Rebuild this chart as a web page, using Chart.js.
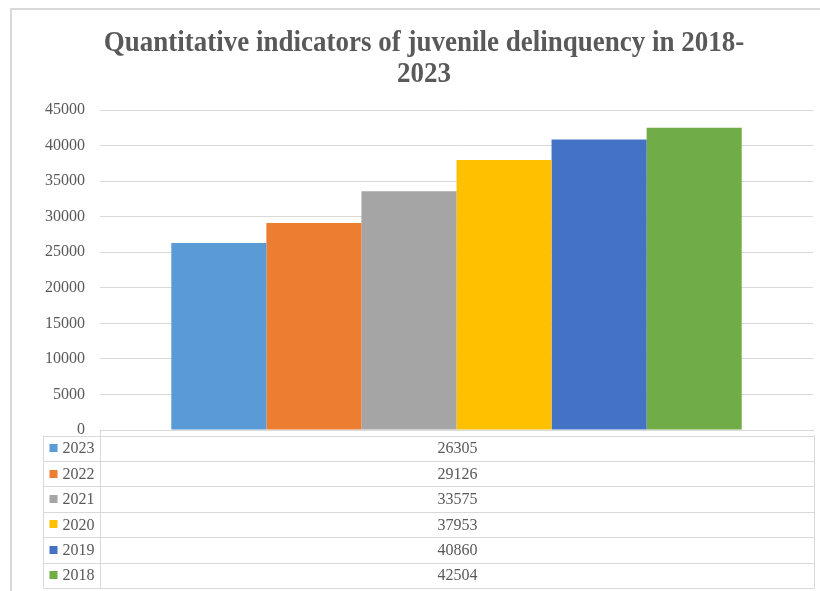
<!DOCTYPE html>
<html>
<head>
<meta charset="utf-8">
<script src="https://cdn.jsdelivr.net/npm/chart.js@4.4.1/dist/chart.umd.min.js"></script>
<style>
  html, body { margin: 0; padding: 0; background: #fff; }
  #wrap { position: relative; width: 820px; height: 591px; overflow: hidden; }
  #frame { position: absolute; left: 10px; top: 8px; width: 900px; height: 700px; border: 2px solid #d9d9d9; }
  canvas { position: absolute; left: 0; top: 0; }
</style>
</head>
<body>
<div id="wrap">
  <div id="frame"></div>
  <canvas id="myChart" width="820" height="591"></canvas>
</div>
<script>
const categories = [""];
const years = ["2023", "2022", "2021", "2020", "2019", "2018"];
const counts = [26305, 29126, 33575, 37953, 40860, 42504];
const colors = ["#5B9BD5", "#ED7D31", "#A5A5A5", "#FFC000", "#4472C4", "#70AD47"];
const yTicks = [0, 5000, 10000, 15000, 20000, 25000, 30000, 35000, 40000, 45000];
const titleLines = ["Quantitative indicators of juvenile delinquency in 2018-", "2023"];

const textColor = "#595959";
const lineColor = "#d9d9d9";
const serif = "'Liberation Serif', 'Times New Roman', serif";

// title in a slightly tall, condensed look like the original
const tallTitle = {
  id: "tallTitle",
  afterDraw(chart) {
    const { ctx } = chart;
    ctx.save();
    ctx.font = "bold 27px " + serif;
    ctx.fillStyle = textColor;
    ctx.textAlign = "center";
    ctx.textBaseline = "alphabetic";
    titleLines.forEach((line, i) => {
      const base = 51 + i * 31;
      ctx.save();
      ctx.translate(424, base);
      ctx.scale(1, 1.12);
      ctx.fillText(line, 0, 0);
      ctx.restore();
    });
    ctx.restore();
  }
};

// Excel-style data table under the plot
const dataTable = {
  id: "dataTable",
  afterDraw(chart) {
    const { ctx, chartArea } = chart;
    const px = (v) => Math.round(v) + 0.5;
    const left = px(chartArea.left - 57);
    const mid = px(chartArea.left);
    const right = px(chartArea.right + 1);
    const axisY = px(chartArea.bottom);
    const top = px(chartArea.bottom + 5);
    const rowH = (chart.height - 3 - top) / years.length;
    const bottom = px(top + rowH * years.length);

    ctx.save();
    ctx.strokeStyle = lineColor;
    ctx.lineWidth = 1;
    ctx.beginPath();
    ctx.moveTo(mid, axisY); ctx.lineTo(right, axisY);
    ctx.moveTo(mid, axisY); ctx.lineTo(mid, bottom);
    ctx.moveTo(left, top); ctx.lineTo(left, bottom);
    ctx.moveTo(right, top); ctx.lineTo(right, bottom);
    for (let i = 0; i <= years.length; i++) {
      const y = px(top + rowH * i);
      ctx.moveTo(left, y); ctx.lineTo(right, y);
    }
    ctx.stroke();

    ctx.font = "16px " + serif;
    ctx.textBaseline = "middle";
    chart.data.datasets.forEach((ds, i) => {
      const cy = top + rowH * (i + 0.5);
      ctx.fillStyle = ds.backgroundColor;
      ctx.fillRect(left + 6, Math.round(cy - 4), 8, 8);
      ctx.fillStyle = textColor;
      ctx.textAlign = "left";
      ctx.fillText(ds.label, left + 19, cy + 1);
      ctx.textAlign = "center";
      ctx.fillText(String(ds.data[0]), (mid + right) / 2, cy + 1);
    });
    ctx.restore();
  }
};

const ctx = document.getElementById("myChart").getContext("2d");

const data = {
  labels: categories,
  datasets: years.map((year, i) => ({
    label: year,
    data: [counts[i]],
    backgroundColor: colors[i],
    borderWidth: 0,
    categoryPercentage: 0.8,
    barPercentage: 1.0,
  })),
};

const config = {
  type: "bar",
  data: data,
  plugins: [tallTitle, dataTable],
  options: {
    responsive: false,
    animation: false,
    layout: {
      padding: { left: 10, right: 7, top: 110, bottom: 161 },
    },
    plugins: {
      legend: { display: false },
      tooltip: { enabled: false },
      title: { display: false },
    },
    scales: {
      x: {
        display: false,
      },
      y: {
        min: 0,
        max: 45000,
        afterFit: (axis) => { axis.width = 90; },
        afterBuildTicks: (axis) => { axis.ticks = yTicks.map((v) => ({ value: v })); },
        border: { display: false },
        grid: { color: lineColor, drawTicks: false },
        ticks: {
          color: textColor,
          padding: 15,
          font: { family: serif, size: 16 },
          callback: (v) => String(v),
        },
      },
    },
  },
};

const myChart = new Chart(ctx, config);
</script>
</body>
</html>
